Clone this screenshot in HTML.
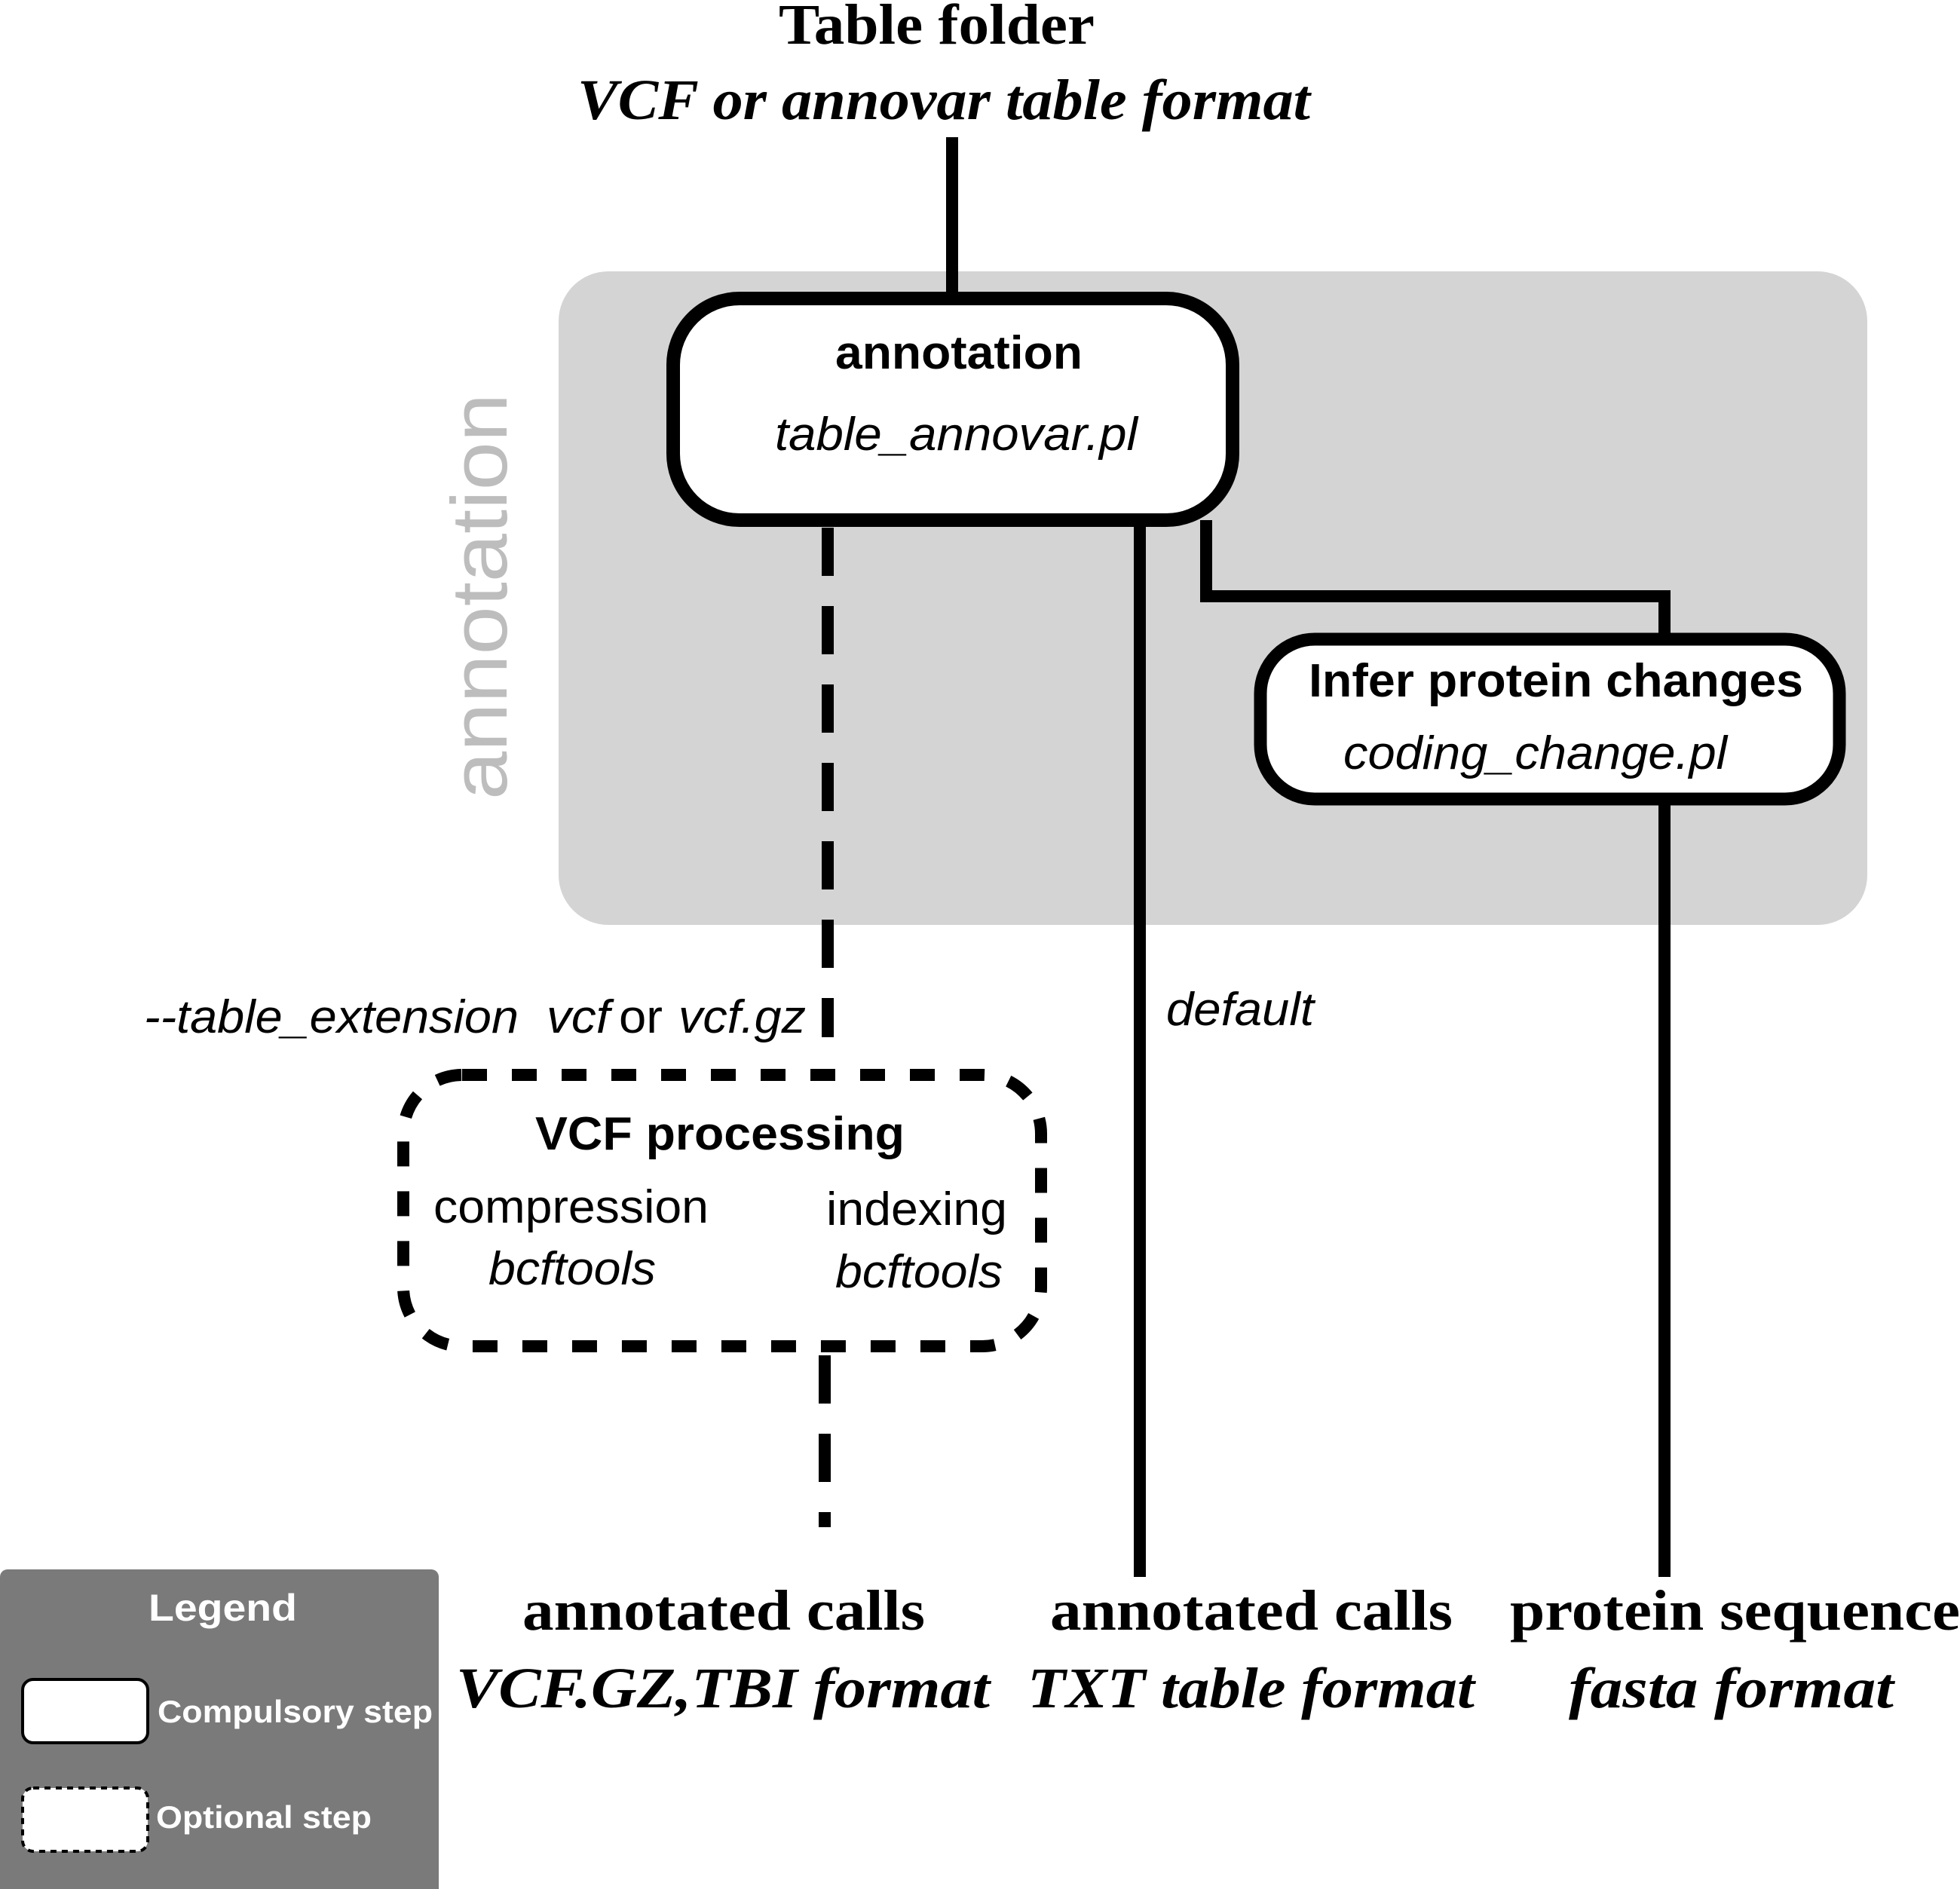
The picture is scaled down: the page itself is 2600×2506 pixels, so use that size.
<!DOCTYPE html>
<html><head><meta charset="utf-8"><style>html,body{margin:0;padding:0;background:#fff}svg{display:block}</style></head>
<body>
<svg width="2600" height="2506" viewBox="0 0 2600 2506" xmlns="http://www.w3.org/2000/svg">
<rect x="0" y="0" width="2600" height="2506" fill="#fff"/>
<rect x="741" y="360" width="1736" height="867" rx="66" fill="#d4d4d4"/>
<g font-family="Liberation Serif, serif" font-weight="bold" fill="#000">
<text x="1033" y="58" font-size="76" textLength="419" lengthAdjust="spacingAndGlyphs">Table folder</text>
<text x="766" y="158" font-size="76" font-style="italic" textLength="972" lengthAdjust="spacingAndGlyphs">VCF or annovar table format</text>
<text x="693" y="2162" font-size="76" textLength="534" lengthAdjust="spacingAndGlyphs">annotated calls</text>
<text x="605" y="2265" font-size="76" font-style="italic" textLength="708" lengthAdjust="spacingAndGlyphs">VCF.GZ,TBI format</text>
<text x="1393" y="2162" font-size="76" textLength="534" lengthAdjust="spacingAndGlyphs">annotated calls</text>
<text x="1363" y="2265" font-size="76" font-style="italic" textLength="593" lengthAdjust="spacingAndGlyphs">TXT table format</text>
<text x="2003" y="2162" font-size="76" textLength="597" lengthAdjust="spacingAndGlyphs">protein sequence</text>
<text x="2081" y="2265" font-size="76" font-style="italic" textLength="431" lengthAdjust="spacingAndGlyphs">fasta format</text>
</g>
<text transform="translate(672,1061) rotate(-90)" font-family="Liberation Sans, sans-serif" font-size="105" fill="#bdbdbd" textLength="539" lengthAdjust="spacingAndGlyphs">annotation</text>
<g stroke="#000" stroke-width="16" fill="none">
<line x1="1263" y1="182" x2="1263" y2="395"/>
<line x1="1512" y1="690" x2="1512" y2="2092"/>
<polyline points="1600,690 1600,791 2208,791 2208,846"/>
<line x1="2208" y1="1060" x2="2208" y2="2092"/>
<line x1="1098" y1="700" x2="1098" y2="1376" stroke-dasharray="64,40"/>
<line x1="1094" y1="1798" x2="1094" y2="2026" stroke-dasharray="64,40"/>
</g>
<rect x="893" y="396" width="742" height="294" rx="88" fill="#fff" stroke="#000" stroke-width="18"/>
<rect x="1672" y="848" width="768" height="212" rx="72" fill="#fff" stroke="#000" stroke-width="17"/>
<rect x="535" y="1426" width="846" height="360" rx="78" fill="#fff" stroke="#000" stroke-width="16" stroke-dasharray="33,33"/>
<g font-family="Liberation Sans, sans-serif" fill="#000">
<text x="1108" y="489" font-size="62" font-weight="bold" textLength="328" lengthAdjust="spacingAndGlyphs">annotation</text>
<text x="1028" y="597" font-size="62" font-style="italic" textLength="481" lengthAdjust="spacingAndGlyphs">table_annovar.pl</text>
<text x="1736" y="924" font-size="62" font-weight="bold" textLength="656" lengthAdjust="spacingAndGlyphs">Infer protein changes</text>
<text x="1782" y="1020" font-size="62" font-style="italic" textLength="509" lengthAdjust="spacingAndGlyphs">coding_change.pl</text>
<text x="191" y="1370" font-size="62" font-style="italic" textLength="497" lengthAdjust="spacingAndGlyphs">--table_extension</text>
<text x="725" y="1370" font-size="62" font-style="italic" textLength="84" lengthAdjust="spacingAndGlyphs">vcf</text>
<text x="821" y="1370" font-size="62" textLength="58" lengthAdjust="spacingAndGlyphs">or</text>
<text x="900" y="1370" font-size="62" font-style="italic" textLength="169" lengthAdjust="spacingAndGlyphs">vcf.gz</text>
<text x="1547" y="1360" font-size="62" font-style="italic" textLength="196" lengthAdjust="spacingAndGlyphs">default</text>
<text x="710" y="1525" font-size="62" font-weight="bold" textLength="490" lengthAdjust="spacingAndGlyphs">VCF processing</text>
<text x="575" y="1622" font-size="62" textLength="365" lengthAdjust="spacingAndGlyphs">compression</text>
<text x="1096" y="1625" font-size="62" textLength="240" lengthAdjust="spacingAndGlyphs">indexing</text>
<text x="648" y="1704" font-size="62" font-style="italic" textLength="222" lengthAdjust="spacingAndGlyphs">bcftools</text>
<text x="1108" y="1708" font-size="62" font-style="italic" textLength="222" lengthAdjust="spacingAndGlyphs">bcftools</text>
</g>
<rect x="0" y="2082" width="582" height="440" rx="10" fill="#7a7a7a"/>
<rect x="30" y="2228" width="166" height="84" rx="14" fill="#fff" stroke="#000" stroke-width="4"/>
<rect x="30" y="2372" width="166" height="84" rx="14" fill="#fff" stroke="#000" stroke-width="4" stroke-dasharray="8,7"/>
<g font-family="Liberation Sans, sans-serif" font-weight="bold" fill="#fff">
<text x="197" y="2150" font-size="50" textLength="197" lengthAdjust="spacingAndGlyphs">Legend</text>
<text x="209" y="2285" font-size="42" textLength="365" lengthAdjust="spacingAndGlyphs">Compulsory step</text>
<text x="207" y="2425" font-size="42" textLength="286" lengthAdjust="spacingAndGlyphs">Optional step</text>
</g>
</svg>
</body></html>
